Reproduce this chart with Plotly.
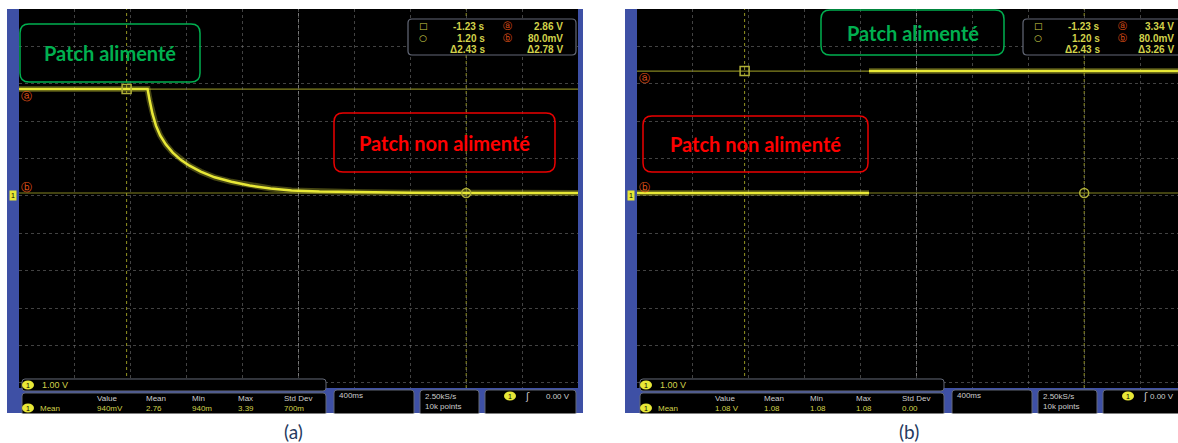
import plotly.graph_objects as go

# ---------------- data ----------------
# panel (a): supply switched off -> decay of the voltage (s, V)
time_a = [-2.00, -1.080, -1.065, -1.045, -1.020, -0.990, -0.950, -0.900, -0.840, -0.780,
          -0.700, -0.600, -0.480, -0.350, -0.200, -0.050, 0.150, 0.450, 0.800, 1.300, 2.00]
volt_a = [2.86, 2.86, 2.55, 2.20, 1.88, 1.62, 1.38, 1.16, 0.96, 0.81,
          0.65, 0.50, 0.38, 0.28, 0.20, 0.15, 0.12, 0.10, 0.09, 0.08, 0.08]

# panel (b): supply switched on -> step (gap between the two segments)
time_b = [-2.00, -0.34, None, -0.34, 2.00]
volt_b = [0.08, 0.08, None, 3.34, 3.34]

# cursors
cursor_time = [-1.23, 1.20]
cursor_volt_a = [2.86, 0.080]
cursor_volt_b = [3.34, 0.080]

# status bar texts
meas_headers = ["Value", "Mean", "Min", "Max", "Std Dev"]
meas_a = ["940mV", "2.76", "940m", "3.39", "700m"]
meas_b = ["1.08 V", "1.08", "1.08", "1.08", "0.00"]
scale_label = "1.00 V"
timebase_label = "400ms"
sample_label = "2.50kS/s"
points_label = "10k points"
trigger_label = "0.00 V"
label_on = "Patch alimenté"
label_off = "Patch non alimenté"

# ---------------- styling / geometry ----------------
W, H = 1178, 443
BLUE = "rgb(62,80,165)"
TRACE = "rgb(232,232,55)"
GLOW = "rgba(230,230,60,0.30)"
CURSOR_V = "rgba(175,175,40,0.85)"
CURSOR_H = "rgba(165,165,40,0.80)"
GRID = "rgba(120,120,120,0.55)"
ORANGE = "rgb(230,85,25)"
TXT_Y = "rgb(210,210,75)"
TXT_W = "rgb(205,205,205)"
BOX_LINE = "rgb(100,105,120)"
GREEN = "rgb(0,176,80)"
RED = "rgb(255,0,0)"
CAPTION = "rgb(38,58,96)"
SCOPE_FONT = "Liberation Sans"
LABEL_FONT = "Lato"

PX_PER_DIV_X = 55.9
S_PER_DIV = 0.4
Y_RANGE = [-5.134, 5.0]


def X(p):
    return p / W


def Y(p):
    return 1 - p / H


def rr_path(x0, y0, x1, y1, r):
    def P(x, y):
        return f"{X(x):.5f},{Y(y):.5f}"
    return (f"M {P(x0 + r, y0)} L {P(x1 - r, y0)} Q {P(x1, y0)} {P(x1, y0 + r)} "
            f"L {P(x1, y1 - r)} Q {P(x1, y1)} {P(x1 - r, y1)} L {P(x0 + r, y1)} "
            f"Q {P(x0, y1)} {P(x0, y1 - r)} L {P(x0, y0 + r)} Q {P(x0, y0)} {P(x0 + r, y0)} Z")


def vstr(v):
    return f"{v * 1000:.1f}mV" if abs(v) < 1 else f"{v:.2f} V"


panels = [
    dict(dx=0, xa="x", ya="y", time=time_a, volt=volt_a, cv=cursor_volt_a, meas=meas_a,
         caption="(a)", cap_x=293, green=(20, 24, 200, 82), red=(334, 113, 555, 172),
         ro_left=408, ro_v2=157),
    dict(dx=618, xa="x2", ya="y2", time=time_b, volt=volt_b, cv=cursor_volt_b, meas=meas_b,
         caption="(b)", cap_x=909, green=(821, 10, 1004, 55), red=(643, 116, 868, 172),
         ro_left=1023, ro_v2=153),
]

fig = go.Figure()
shapes = []
annotations = []


def txt(x, y, s, color=TXT_Y, size=9, xanchor="left", family=SCOPE_FONT, yref="paper", yshift=0):
    annotations.append(dict(x=X(x), y=(Y(y) if yref == "paper" else y), xref="paper", yref=yref,
                            text=s, showarrow=False, xanchor=xanchor, yanchor="middle",
                            yshift=yshift,
                            font=dict(family=family, size=size, color=color)))


def badge(cx, cy):
    shapes.append(dict(type="circle", xref="paper", yref="paper", x0=X(cx - 6), x1=X(cx + 6),
                       y0=Y(cy + 4.5), y1=Y(cy - 4.5), fillcolor=TRACE, line=dict(width=0),
                       layer="above"))
    txt(cx, cy, "1", color="black", size=7, xanchor="center")


for i, p in enumerate(panels):
    dx = p["dx"]
    xa, ya = p["xa"], p["ya"]
    sx0 = 19 + dx
    sx1 = 578 + dx
    # frame and screen
    shapes.append(dict(type="rect", xref="paper", yref="paper", x0=X(7 + dx), x1=X(min(583 + dx, W)),
                       y0=Y(413), y1=Y(9), fillcolor=BLUE, line=dict(width=0), layer="below"))
    shapes.append(dict(type="rect", xref="paper", yref="paper", x0=X(sx0), x1=X(min(sx1, W)),
                       y0=Y(388), y1=Y(9), fillcolor="black", line=dict(width=0), layer="below"))

    # axes
    x_end = min(sx1, W)
    xr = [-2.0, -2.0 + (x_end - sx0) / PX_PER_DIV_X * S_PER_DIV]
    axis_common = dict(showticklabels=False, ticks="", showline=False, zeroline=False,
                       showgrid=True, gridcolor=GRID, griddash="dot", gridwidth=1, fixedrange=True)
    key = "" if i == 0 else "2"
    fig.update_layout(**{
        f"xaxis{key}": dict(domain=[X(sx0), X(x_end)], range=xr, dtick=S_PER_DIV, tick0=0,
                            anchor=ya, **axis_common),
        f"yaxis{key}": dict(domain=[Y(388), Y(9)], range=Y_RANGE, dtick=1, tick0=0,
                            anchor=xa, **axis_common),
    })

    # centre line
    shapes.append(dict(type="line", xref=xa, x0=0, x1=0, yref=f"{ya} domain", y0=0, y1=1,
                       line=dict(color="rgba(170,170,170,0.7)", width=1, dash="dot"), layer="below"))
    # cursors
    for t in cursor_time:
        shapes.append(dict(type="line", xref=xa, x0=t, x1=t, yref=f"{ya} domain", y0=0, y1=1,
                           line=dict(color=CURSOR_V, width=1, dash="dot"), layer="below"))
    for v in p["cv"]:
        shapes.append(dict(type="line", xref=f"{xa} domain", x0=0, x1=1, yref=ya, y0=v, y1=v,
                           line=dict(color=CURSOR_H, width=1.2), layer="below"))

    # traces
    fig.add_trace(go.Scatter(x=p["time"], y=p["volt"], mode="lines", xaxis=xa, yaxis=ya,
                             line=dict(color=GLOW, width=6), hoverinfo="skip", showlegend=False))
    fig.add_trace(go.Scatter(x=p["time"], y=p["volt"], mode="lines", xaxis=xa, yaxis=ya,
                             line=dict(color=TRACE, width=2.5), showlegend=False))
    fig.add_trace(go.Scatter(x=cursor_time, y=p["cv"], mode="markers", xaxis=xa, yaxis=ya,
                             marker=dict(symbol=["square-open", "circle-open"], size=9,
                                         color="rgb(175,175,55)", line=dict(width=1.5)),
                             showlegend=False))

    # ground marker and cursor tags on the left
    annotations.append(dict(x=X(13 + dx), y=0, xref="paper", yref=ya, text="1", showarrow=False,
                            xanchor="center", yanchor="middle", bgcolor=TRACE, borderpad=1,
                            font=dict(family=SCOPE_FONT, size=7, color="black")))
    annotations.append(dict(x=X(26 + dx), y=p["cv"][0], xref="paper", yref=ya, text="ⓐ",
                            showarrow=False, xanchor="center", yanchor="middle", yshift=-7,
                            font=dict(family="DejaVu Sans", size=11, color=ORANGE)))
    annotations.append(dict(x=X(26 + dx), y=p["cv"][1], xref="paper", yref=ya, text="ⓑ",
                            showarrow=False, xanchor="center", yanchor="middle", yshift=6,
                            font=dict(family="DejaVu Sans", size=11, color=ORANGE)))

    # readout box
    L = p["ro_left"]
    shapes.append(dict(type="path", xref="paper", yref="paper", path=rr_path(L, 19, L + 168, 55, 4),
                       fillcolor="black", line=dict(color=BOX_LINE, width=1.2), layer="above"))
    rows = [("□", f"{cursor_time[0]:.2f} s", "ⓐ", vstr(p["cv"][0])),
            ("○", f"{cursor_time[1]:.2f} s", "ⓑ", vstr(p["cv"][1])),
            ("", f"Δ{cursor_time[1] - cursor_time[0]:.2f} s", "",
             f"Δ{p['cv'][0] - p['cv'][1]:.2f} V")]
    for r, (sym, v1, tag, v2) in enumerate(rows):
        yy = 26 + 12 * r
        if sym:
            txt(L + 15, yy, sym, color=TXT_Y, size=9, xanchor="center", family="DejaVu Sans")
        txt(L + 79, yy, f"<b>{v1}</b>", size=10, xanchor="right")
        if tag:
            txt(L + 99, yy, tag, color=ORANGE, size=9, xanchor="center", family="DejaVu Sans")
        txt(L + p["ro_v2"], yy, f"<b>{v2}</b>", size=10, xanchor="right")

    # status bar
    shapes.append(dict(type="path", xref="paper", yref="paper", path=rr_path(22 + dx, 379, 326 + dx, 391, 3),
                       fillcolor="black", line=dict(color=BOX_LINE, width=1), layer="above"))
    shapes.append(dict(type="path", xref="paper", yref="paper", path=rr_path(22 + dx, 393, 326 + dx, 416, 3),
                       fillcolor="black", line=dict(color=BOX_LINE, width=1), layer="above"))
    shapes.append(dict(type="path", xref="paper", yref="paper", path=rr_path(334 + dx, 390, 414 + dx, 416, 3),
                       fillcolor="black", line=dict(color=BOX_LINE, width=1), layer="above"))
    shapes.append(dict(type="path", xref="paper", yref="paper", path=rr_path(420 + dx, 390, 479 + dx, 416, 3),
                       fillcolor="black", line=dict(color=BOX_LINE, width=1), layer="above"))
    shapes.append(dict(type="path", xref="paper", yref="paper", path=rr_path(485 + dx, 390, 576 + dx, 416, 3),
                       fillcolor="black", line=dict(color=BOX_LINE, width=1), layer="above"))
    # white strip under the screenshot bottom
    shapes.append(dict(type="rect", xref="paper", yref="paper", x0=X(0 + dx), x1=X(min(590 + dx, W)),
                       y0=Y(443), y1=Y(413.5), fillcolor="white", line=dict(width=0), layer="above"))

    badge(28 + dx, 385)
    txt(40 + dx, 385, scale_label)
    hx = [95, 144, 190, 236, 282]
    for h, v, xx in zip(meas_headers, p["meas"], hx):
        txt(xx + dx, 398, h, color=TXT_W, size=8)
        txt(xx + dx, 408, v, size=8)
    badge(28 + dx, 408)
    txt(38 + dx, 408, "Mean", size=8)
    txt(337 + dx, 395, timebase_label, color=TXT_W, size=8)
    txt(423 + dx, 396, sample_label, color=TXT_W, size=8)
    txt(423 + dx, 406, points_label, color=TXT_W, size=8)
    badge(510 + dx, 396)
    txt(527 + dx, 396, "ʃ", color=TXT_W, size=10, xanchor="center", family="DejaVu Sans")
    txt(min(572 + dx, W - 2), 396, trigger_label, color=TXT_W, size=8, xanchor="right")

    # label boxes
    gx0, gy0, gx1, gy1 = p["green"]
    shapes.append(dict(type="path", xref="paper", yref="paper", path=rr_path(gx0, gy0, gx1, gy1, 9),
                       line=dict(color=GREEN, width=1.5), layer="above"))
    txt((gx0 + gx1) / 2, (gy0 + gy1) / 2, f"<b>{label_on}</b>", color=GREEN, size=20,
        xanchor="center", family=LABEL_FONT)
    rx0, ry0, rx1, ry1 = p["red"]
    shapes.append(dict(type="path", xref="paper", yref="paper", path=rr_path(rx0, ry0, rx1, ry1, 9),
                       line=dict(color="rgb(235,0,0)", width=1.5), layer="above"))
    txt((rx0 + rx1) / 2, (ry0 + ry1) / 2, f"<b>{label_off}</b>", color=RED, size=20,
        xanchor="center", family=LABEL_FONT)

    # caption
    txt(p["cap_x"], 431, p["caption"], color=CAPTION, size=19, xanchor="center", family=LABEL_FONT)

fig.update_layout(
    width=W, height=H, margin=dict(l=0, r=0, t=0, b=0),
    paper_bgcolor="white", plot_bgcolor="black",
    shapes=shapes, annotations=annotations, showlegend=False,
)

fig.write_html("out.html", config={"displayModeBar": False},
               post_script="document.body.style.margin='0px';document.body.style.overflow='hidden';")
